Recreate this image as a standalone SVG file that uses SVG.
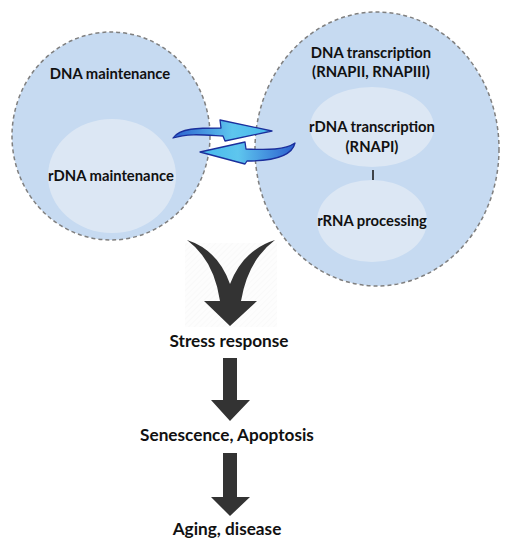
<svg xmlns="http://www.w3.org/2000/svg" width="511" height="550" viewBox="0 0 511 550">
<style>
.outer{fill:#c6daf1;stroke:#7f7f7f;stroke-width:1.5;stroke-dasharray:4 3}
.inner{fill:#dce7f4}
.t{font-family:Lato,"Liberation Sans",Arial,sans-serif;font-weight:bold;font-size:14.8px;fill:#111;text-anchor:middle}
.b{font-size:17.2px}
.blk{fill:#333}
.barrow{fill:url(#bg);stroke:#1b2f9c;stroke-width:1.3;stroke-linejoin:round}
</style>
<defs>
<linearGradient id="bg" x1="0" y1="0" x2="1" y2="0">
<stop offset="0" stop-color="#2b5fcf"/>
<stop offset="0.6" stop-color="#5ec6ee"/>
<stop offset="1" stop-color="#46b8ec"/>
</linearGradient>
<linearGradient id="bg2" x1="1" y1="0" x2="0" y2="0">
<stop offset="0" stop-color="#2b5fcf"/>
<stop offset="0.6" stop-color="#5ec6ee"/>
<stop offset="1" stop-color="#46b8ec"/>
</linearGradient>
<pattern id="hatch" width="4" height="4" patternUnits="userSpaceOnUse" patternTransform="rotate(45)">
<rect width="4" height="4" fill="#fdfdfd"/>
<line x1="0" y1="0" x2="0" y2="4" stroke="#f5f5f5" stroke-width="1"/>
</pattern>
</defs>
<g id="left-node">
<ellipse class="outer" cx="111" cy="136" rx="99" ry="104"/>
<ellipse class="inner" cx="112" cy="176" rx="64" ry="57"/>
<text class="t" x="110" y="79">DNA maintenance</text>
<text class="t" x="111" y="181">rDNA maintenance</text>
</g>
<g id="right-node">
<ellipse class="outer" cx="377" cy="149" rx="122" ry="137"/>
<ellipse class="inner" cx="372" cy="127" rx="62" ry="40"/>
<ellipse class="inner" cx="372" cy="221" rx="55" ry="41"/>
<text class="t" x="371" y="58">DNA transcription</text>
<text class="t" x="371" y="77">(RNAPII, RNAPIII)</text>
<text class="t" x="372" y="132">rDNA transcription</text>
<text class="t" x="372" y="152">(RNAPI)</text>
<line x1="373" y1="170" x2="373" y2="180" stroke="#111" stroke-width="1.5"/>
<text class="t" x="372" y="226">rRNA processing</text>
</g>
<g id="stress">
<text class="t b" x="229" y="347">Stress response</text>
</g>
<g id="senescence">
<text class="t b" x="227" y="441">Senescence, Apoptosis</text>
</g>
<g id="aging">
<text class="t b" x="227" y="535">Aging, disease</text>
</g>
<g id="connectors">
<path class="barrow" d="M173,138 C180,128 198,128 221,128 L220,120 L272,131 L225,141 L223,136 C205,135 188,133 173,138 Z"/>
<path class="barrow" style="fill:url(#bg2)" d="M200,152 L245,142 L246,149 C268,150 285,150 295,143 C292,156 275,161 247,161 L245,164 Z"/>
<rect x="185" y="243" width="92" height="84" fill="url(#hatch)"/>
<path class="blk" d="M187,240 Q218,250 230,284 Q243,250 275,240 Q248,260 241,301 L257,301 L230,326 L204,301 L220,301 Q214,260 187,240 Z"/>
<path class="blk" d="M223,358 H237 V400 H250 L230,421 L211,400 H223 Z"/>
<path class="blk" d="M223,453 H237 V497 H250 L230,516 L211,497 H223 Z"/>
</g>
</svg>
